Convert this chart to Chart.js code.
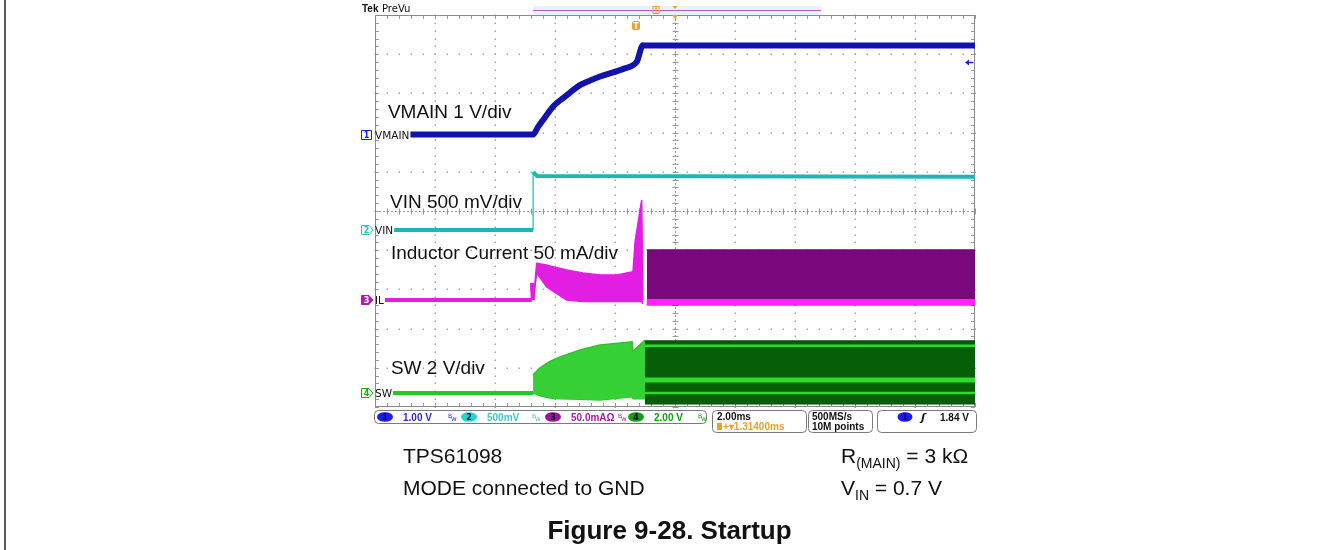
<!DOCTYPE html>
<html>
<head>
<meta charset="utf-8">
<title>Figure 9-28. Startup</title>
<script src="https://cdn.jsdelivr.net/npm/chart.js@4.4.1/dist/chart.umd.min.js"></script>
<style>
  html, body { margin: 0; padding: 0; background: #fff; }
  #wrap { position: relative; width: 1331px; height: 550px; }
</style>
</head>
<body>
<div id="wrap"><canvas id="scopeChart" width="1331" height="550"></canvas></div>
<script>
// time axis in ms (2 ms/div), each trace in its own units
const vmainTime = [-8.83, -4.73, -4.57, -4.4, -4.23, -4.07, -3.9, -3.73, -3.5, -3.17, -2.83, -2.5, -2.23, -1.93, -1.67, -1.4, -1.27, -1.07, -1.0, 10];
const vmainVolts = [0, 0, 0.19, 0.37, 0.55, 0.71, 0.83, 0.93, 1.07, 1.26, 1.38, 1.48, 1.55, 1.62, 1.69, 1.77, 1.86, 2.28, 2.27, 2.27];

const vinTime = [-9.4, -4.73, -4.73, -4.6, 10];
const vinVolts = [0, 0, 0.74, 0.69, 0.68];

const ilBaseTime = [-9.67, -4.77, -4.77, -4.74];
const ilBaseMa = [0, 0, 21.7, 0];
const ilStartTime = [-4.72, -4.61, -4.28, -4.17, -3.61, -3.07, -2.5, -1.94, -1.4, -1.33, -1.11, -1.07];
const ilStartHi = [0, 46.8, 44.5, 43.4, 38.3, 34.4, 31.9, 31.9, 36, 74.4, 127.6, 0];
const ilStartLo = [0, 34.4, 17, 14, 0, -2, -2, -2, -2, -2, -2, -5];
const ilRunTime = [-0.94, 10];
const ilRunHi = [63.8, 63.8];
const ilRunLo = [-6, -6];
const ilRunStripe = [-2.5, -2.5];

const swBaseTime = [-9.4, -4.73];
const swBaseVolts = [0, 0];
const swStartTime = [-4.73, -4.5, -4.17, -3.83, -3.17, -2.5, -1.43, -1.4, -1.0];
const swStartHi = [0.92, 1.28, 1.6, 1.84, 2.19, 2.45, 2.6, 2.12, 2.7];
const swStartLo = [0, -0.15, -0.26, -0.3, -0.33, -0.36, -0.2, -0.3, -0.3];
const swRunTime = [-1.0, 10];
const swRunHi = [2.65, 2.65];
const swRunLo = [-0.56, -0.56];
const swStripeLevels = [2.4, 0.66, 0];

// channel settings: units per division and ground marker position in divisions
const ch1 = { scale: 1, offset: 1.95 };
const ch2 = { scale: 0.5, offset: -0.485 };
const ch3 = { scale: 50, offset: -2.27 };
const ch4 = { scale: 2, offset: -4.64 };

function toDiv(times, values, ch) {
  return times.map((t, i) => ({ x: t, y: ch.offset + values[i] / ch.scale }));
}

const thinVertical = w => ({
  borderWidth: c => (c.p0.parsed.x === c.p1.parsed.x ? 1.2 : w)
});

const BLUE = '#1212ac', CYAN = '#1fb5b5', MAGENTA = '#e21ee2', GREEN = '#22c822';

const datasets = [
  { data: toDiv(ilRunTime, ilRunStripe, ch3), borderColor: '#ff24ff', borderWidth: 6 },
  ...swStripeLevels.map((lv, i) => ({
    data: toDiv(swRunTime, [lv, lv], ch4),
    borderColor: '#2add2a',
    borderWidth: i === 1 ? 5 : 2.5
  })),
  { data: toDiv(vmainTime, vmainVolts, ch1), borderColor: BLUE, borderWidth: 6, cubicInterpolationMode: 'monotone' },
  { data: toDiv(vinTime, vinVolts, ch2), borderColor: CYAN, borderWidth: 4, segment: thinVertical(4) },
  { data: toDiv(ilBaseTime, ilBaseMa, ch3), borderColor: MAGENTA, borderWidth: 4, segment: thinVertical(4) },
  { data: toDiv(ilStartTime, ilStartHi, ch3), borderColor: MAGENTA, borderWidth: 1.5, fill: '+1', backgroundColor: MAGENTA },
  { data: toDiv(ilStartTime, ilStartLo, ch3), borderColor: MAGENTA, borderWidth: 1.5 },
  { data: toDiv(ilRunTime, ilRunHi, ch3), borderColor: '#6c0670', borderWidth: 1.5, fill: '+1', backgroundColor: '#7a087c' },
  { data: toDiv(ilRunTime, ilRunLo, ch3), borderColor: '#6c0670', borderWidth: 1.5 },
  { data: toDiv(swBaseTime, swBaseVolts, ch4), borderColor: GREEN, borderWidth: 4 },
  { data: toDiv(swStartTime, swStartHi, ch4), borderColor: '#2cc42c', borderWidth: 1.5, fill: '+1', backgroundColor: '#36d036' },
  { data: toDiv(swStartTime, swStartLo, ch4), borderColor: '#2cc42c', borderWidth: 1.5 },
  { data: toDiv(swRunTime, swRunHi, ch4), borderColor: '#044c04', borderWidth: 1.5, fill: '+1', backgroundColor: '#065e06' },
  { data: toDiv(swRunTime, swRunLo, ch4), borderColor: '#044c04', borderWidth: 1.5 }
];
datasets.forEach(d => { d.pointRadius = 0; d.tension = 0; if (!d.fill) d.fill = false; });

// graticule: dotted divisions, centre cross with ticks, border
const graticule = {
  id: 'graticule',
  beforeDatasetsDraw(chart) {
    const { ctx, chartArea: a, scales: { x, y } } = chart;
    ctx.save();
    ctx.fillStyle = '#a6a6a6';
    for (let t = -8; t <= 8; t += 2) {
      const px = Math.round(x.getPixelForValue(t));
      for (let d = -5; d <= 5.001; d += 0.2) {
        ctx.fillRect(px - 0.5, Math.round(y.getPixelForValue(d)) - 0.5, 1.5, 1.5);
      }
    }
    for (let d = -4; d <= 4; d += 1) {
      const py = Math.round(y.getPixelForValue(d));
      for (let t = -10; t <= 10.001; t += 0.4) {
        ctx.fillRect(Math.round(x.getPixelForValue(t)) - 0.5, py - 0.5, 1.5, 1.5);
      }
    }
    ctx.strokeStyle = '#9a9a9a';
    ctx.lineWidth = 1;
    const cx = Math.round(x.getPixelForValue(0)) + 0.5;
    const cy = Math.round(y.getPixelForValue(0)) + 0.5;
    ctx.beginPath();
    for (let d = -5; d <= 5.001; d += 0.2) {
      const py = Math.round(y.getPixelForValue(d)) + 0.5;
      ctx.moveTo(cx - 3, py); ctx.lineTo(cx + 3, py);
      ctx.moveTo(a.left, py); ctx.lineTo(a.left + 4, py);
      ctx.moveTo(a.right - 4, py); ctx.lineTo(a.right, py);
    }
    for (let t = -10; t <= 10.001; t += 0.4) {
      const px = Math.round(x.getPixelForValue(t)) + 0.5;
      ctx.moveTo(px, cy - 3); ctx.lineTo(px, cy + 3);
      ctx.moveTo(px, a.top); ctx.lineTo(px, a.top + 4);
      ctx.moveTo(px, a.bottom - 4); ctx.lineTo(px, a.bottom);
    }
    ctx.stroke();
    ctx.setLineDash([2, 2]);
    ctx.beginPath();
    ctx.moveTo(cx, a.top); ctx.lineTo(cx, a.bottom);
    ctx.moveTo(a.left, cy); ctx.lineTo(a.right, cy);
    ctx.stroke();
    ctx.setLineDash([]);
    ctx.strokeStyle = '#8a8a8a';
    ctx.strokeRect(a.left + 0.5, a.top + 0.5, a.right - a.left - 1, a.bottom - a.top - 1);
    ctx.restore();
  }
};

const traceLabels = [
  { text: 'VMAIN 1 V/div', t: -9.57, d: 2.37 },
  { text: 'VIN 500 mV/div', t: -9.5, d: 0.077 },
  { text: 'Inductor Current 50 mA/div', t: -9.47, d: -1.22 },
  { text: 'SW 2 V/div', t: -9.47, d: -4.15 }
];
const channelMarks = [
  { num: '1', name: 'VMAIN', ch: ch1, color: '#2020e8', filled: false, box: true },
  { num: '2', name: 'VIN', ch: ch2, color: '#22c4c4', filled: false },
  { num: '3', name: 'IL', ch: ch3, color: '#b01cb0', filled: true },
  { num: '4', name: 'SW', ch: ch4, color: '#18a818', filled: false }
];

function marker(ctx, x0, yc, m) {
  ctx.beginPath();
  if (m.box) {
    ctx.rect(x0 + 0.5, yc - 4.5, 10, 9);
  } else {
    ctx.moveTo(x0 + 0.5, yc - 4.5); ctx.lineTo(x0 + 8, yc - 4.5); ctx.lineTo(x0 + 12, yc);
    ctx.lineTo(x0 + 8, yc + 4.5); ctx.lineTo(x0 + 0.5, yc + 4.5); ctx.closePath();
  }
  if (m.filled) { ctx.fillStyle = m.color; ctx.fill(); }
  ctx.strokeStyle = m.color; ctx.lineWidth = 1; ctx.stroke();
  ctx.fillStyle = m.filled ? '#fff' : m.color;
  ctx.font = 'bold 8px "DejaVu Sans"';
  ctx.textAlign = 'center'; ctx.textBaseline = 'middle';
  ctx.fillText(m.num, x0 + 5.5, yc + 0.5);
  ctx.textAlign = 'left';
}

const decorations = {
  id: 'decorations',
  afterDatasetsDraw(chart) {
    const { ctx, chartArea: a, scales: { x, y } } = chart;
    ctx.save();
    ctx.fillStyle = '#111';
    ctx.font = '19px "Liberation Sans"';
    ctx.textBaseline = 'alphabetic';
    traceLabels.forEach(l => ctx.fillText(l.text, x.getPixelForValue(l.t), y.getPixelForValue(l.d)));

    channelMarks.forEach(m => {
      const yc = Math.round(y.getPixelForValue(m.ch.offset));
      ctx.fillStyle = '#fff';
      ctx.font = '10.5px "DejaVu Sans"';
      const w = ctx.measureText(m.name).width;
      ctx.fillRect(a.left + 1, yc - 5, w, 10);
      marker(ctx, a.left - 14, yc, m);
      ctx.fillStyle = '#111';
      ctx.font = '10.5px "DejaVu Sans"';
      ctx.textBaseline = 'middle';
      ctx.fillText(m.name, a.left, yc + 1);
    });

    // trigger level arrow on the right edge (ch1, 1.84 V)
    const ty = Math.round(y.getPixelForValue(ch1.offset + 1.84 / ch1.scale)) + 0.5;
    ctx.strokeStyle = '#2020e8'; ctx.fillStyle = '#2020e8'; ctx.lineWidth = 1.5;
    ctx.beginPath(); ctx.moveTo(a.right - 2, ty); ctx.lineTo(a.right - 8, ty); ctx.stroke();
    ctx.beginPath(); ctx.moveTo(a.right - 10, ty); ctx.lineTo(a.right - 6, ty - 3); ctx.lineTo(a.right - 6, ty + 3); ctx.fill();
    ctx.restore();
  },
  afterDraw(chart) {
    const { ctx, chartArea: a, scales: { x } } = chart;
    ctx.save();
    // page frame
    ctx.fillStyle = '#5c5c5c';
    ctx.fillRect(4, 0, 2, 550);

    // top bar
    ctx.textBaseline = 'alphabetic';
    ctx.fillStyle = '#111';
    ctx.font = 'bold 10px "Liberation Sans"';
    ctx.fillText('Tek', a.left - 13, a.top - 3);
    ctx.font = '10px "DejaVu Sans"';
    ctx.fillText('PreVu', a.left + 7, a.top - 3);
    const recL = x.getPixelForValue(-4.73), recR = x.getPixelForValue(4.87);
    ctx.fillStyle = '#e6f2fa';
    ctx.fillRect(recL, a.top - 9, recR - recL, 9);
    ctx.fillStyle = '#b45cc4';
    ctx.fillRect(recL, a.top - 5, recR - recL, 1);
    const orange = '#f0a028';
    const cx = x.getPixelForValue(0);
    ctx.fillStyle = orange;
    ctx.beginPath(); ctx.moveTo(cx - 2.5, a.top - 9); ctx.lineTo(cx + 2.5, a.top - 9); ctx.lineTo(cx, a.top - 6); ctx.fill();
    ctx.beginPath(); ctx.moveTo(cx - 3, a.top); ctx.lineTo(cx + 3, a.top); ctx.lineTo(cx, a.top + 4); ctx.fill();
    const sx = x.getPixelForValue(-0.65);
    ctx.strokeStyle = orange; ctx.lineWidth = 1;
    ctx.strokeRect(sx - 2.5, a.top - 8.5, 6, 7);
    ctx.fillRect(sx - 1, a.top - 7.5, 3, 1); ctx.fillRect(sx, a.top - 7, 1, 5);
    const tx = x.getPixelForValue(-1.3);
    ctx.beginPath(); ctx.roundRect(tx - 4, a.top + 6, 8, 9, 2); ctx.fill();
    ctx.fillStyle = '#fff';
    ctx.font = 'bold 8px "DejaVu Sans"'; ctx.textAlign = 'center';
    ctx.fillText('T', tx, a.top + 13.5);
    ctx.textAlign = 'left';

    // status bar
    const sy = a.bottom + 3;
    ctx.strokeStyle = '#7a7a7a'; ctx.lineWidth = 1;
    ctx.beginPath(); ctx.roundRect(a.left - 0.5, sy + 0.5, 332, 13, 4); ctx.stroke();
    ctx.beginPath(); ctx.roundRect(a.left + 337.5, sy + 0.5, 94, 22, 4); ctx.stroke();
    ctx.beginPath(); ctx.roundRect(a.left + 433.5, sy + 0.5, 64, 22, 4); ctx.stroke();
    ctx.beginPath(); ctx.roundRect(a.left + 502.5, sy + 0.5, 99, 22, 4); ctx.stroke();

    const chanInfo = [
      { n: '1', txt: '1.00 V', fill: '#1c1cf0', col: '#2a2ad8', at: 10, bw: 73 },
      { n: '2', txt: '500mV', fill: '#22d4d4', col: '#40c8c8', at: 94, bw: 157 },
      { n: '3', txt: '50.0mAΩ', fill: '#a010a0', col: '#a020a0', at: 178, bw: 243 },
      { n: '4', txt: '2.00 V', fill: '#10a010', col: '#10a010', at: 261, bw: 323 }
    ];
    const midY = sy + 7;
    chanInfo.forEach(c => {
      ctx.fillStyle = c.fill;
      ctx.beginPath(); ctx.ellipse(a.left + c.at, midY, 8, 4.8, 0, 0, Math.PI * 2); ctx.fill();
      ctx.fillStyle = '#0c0c30';
      ctx.font = 'bold 8px "DejaVu Sans"'; ctx.textAlign = 'center'; ctx.textBaseline = 'middle';
      ctx.fillText(c.n, a.left + c.at, midY + 0.5);
      ctx.textAlign = 'left';
      ctx.fillStyle = c.col;
      ctx.font = 'bold 10px "Liberation Sans"';
      ctx.fillText(c.txt, a.left + c.at + 18, midY + 1);
      ctx.font = '6px "DejaVu Sans"';
      ctx.fillText('B', a.left + c.bw, midY - 1);
      ctx.font = '7px "DejaVu Sans"';
      ctx.fillText('w', a.left + c.bw + 3, midY + 2);
    });

    ctx.fillStyle = '#111';
    ctx.font = 'bold 10px "Liberation Sans"';
    ctx.fillText('2.00ms', a.left + 342, midY + 0.5);
    ctx.fillText('500MS/s', a.left + 437, midY + 0.5);
    ctx.fillText('10M points', a.left + 437, midY + 10);
    ctx.fillStyle = orange;
    ctx.fillRect(a.left + 342, midY + 6, 5, 7);
    ctx.fillText('+\u25BE1.31400ms', a.left + 348, midY + 10);

    ctx.fillStyle = '#1c1cf0';
    ctx.beginPath(); ctx.ellipse(a.left + 530, midY, 7.5, 4.8, 0, 0, Math.PI * 2); ctx.fill();
    ctx.fillStyle = '#0c0c30';
    ctx.font = 'bold 8px "DejaVu Sans"'; ctx.textAlign = 'center';
    ctx.fillText('1', a.left + 530, midY + 0.5);
    ctx.textAlign = 'left';
    ctx.fillStyle = '#111';
    ctx.font = 'italic bold 11px "DejaVu Sans"';
    ctx.fillText('\u0283', a.left + 546, midY + 1);
    ctx.font = 'bold 10px "Liberation Sans"';
    ctx.fillText('1.84 V', a.left + 565, midY + 1);

    // caption
    ctx.textBaseline = 'alphabetic';
    ctx.fillStyle = '#111';
    ctx.font = '21px "Liberation Sans"';
    ctx.fillText('TPS61098', a.left + 28, 463);
    ctx.fillText('MODE connected to GND', a.left + 28, 495);
    const rx = 841;
    ctx.fillText('R', rx, 463);
    let w = ctx.measureText('R').width;
    ctx.font = '14px "Liberation Sans"';
    ctx.fillText('(MAIN)', rx + w, 468);
    w += ctx.measureText('(MAIN)').width;
    ctx.font = '21px "Liberation Sans"';
    ctx.fillText(' = 3 k\u03A9', rx + w, 463);
    ctx.fillText('V', rx, 495);
    w = ctx.measureText('V').width;
    ctx.font = '14px "Liberation Sans"';
    ctx.fillText('IN', rx + w, 500);
    w += ctx.measureText('IN').width;
    ctx.font = '21px "Liberation Sans"';
    ctx.fillText(' = 0.7 V', rx + w, 495);

    ctx.font = 'bold 26px "Liberation Sans"';
    ctx.textAlign = 'center';
    ctx.fillText('Figure 9-28. Startup', 669.5, 539);
    ctx.restore();
  }
};

const scopeChart = new Chart(document.getElementById('scopeChart').getContext('2d'), {
  type: 'line',
  data: { datasets: datasets },
  options: {
    responsive: false,
    animation: false,
    parsing: true,
    layout: { padding: { left: 375, right: 356, top: 15, bottom: 143 } },
    plugins: { legend: { display: false }, tooltip: { enabled: false } },
    scales: {
      x: { type: 'linear', min: -10, max: 10, display: false },
      y: { type: 'linear', min: -5, max: 5, display: false }
    }
  },
  plugins: [graticule, decorations]
});
</script>
</body>
</html>
